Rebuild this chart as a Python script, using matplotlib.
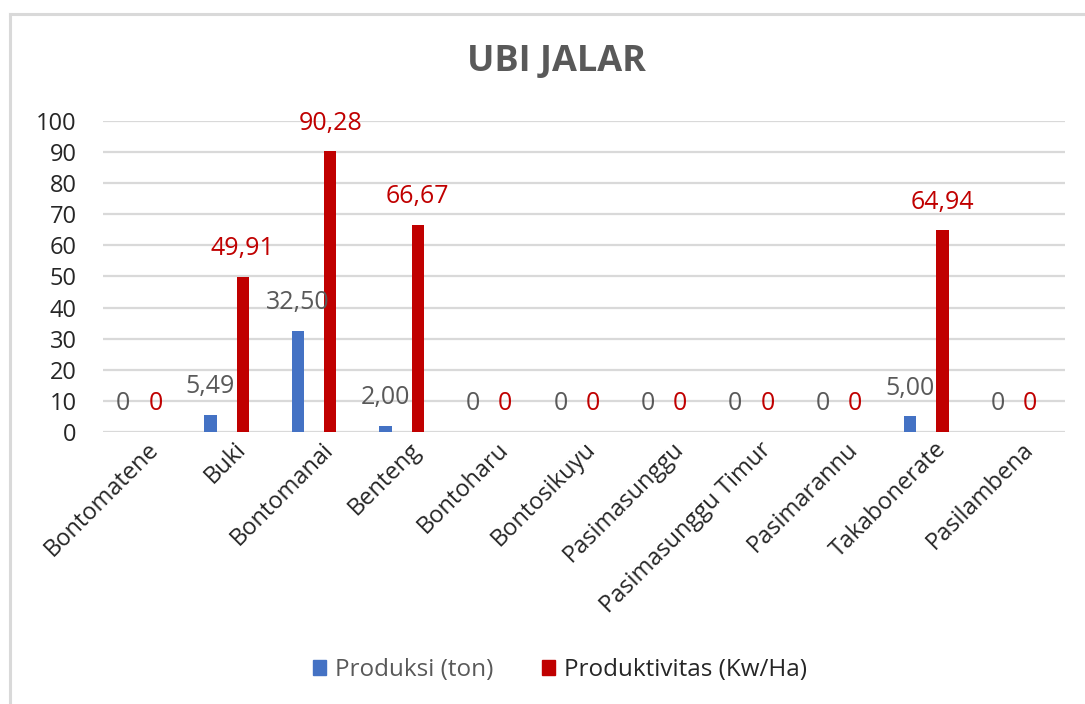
import matplotlib.pyplot as plt
import numpy as np
from matplotlib.lines import Line2D
from matplotlib.patches import Patch

plt.rcParams['font.family'] = ['Open Sans', 'DejaVu Sans']

desa = ['Bontomatene', 'Buki', 'Bontomanai', 'Benteng', 'Bontoharu', 'Bontosikuyu',
        'Pasimasunggu', 'Pasimasunggu Timur', 'Pasimarannu', 'Takabonerate', 'Pasilambena']
produksi = [0, 5.49, 32.50, 2.00, 0, 0, 0, 0, 0, 5.00, 0]
produktivitas = [0, 49.91, 90.28, 66.67, 0, 0, 0, 0, 0, 64.94, 0]

biru = '#4472C4'
merah = '#C00000'
abu = '#595959'


def fmt(v):
    # Excel style: zero shown as 0, others with comma decimal
    if v == 0:
        return '0'
    return f'{v:.2f}'.replace('.', ',')


fig = plt.figure(figsize=(10.85, 7.04), dpi=100)
ax = fig.add_axes([0.0949, 0.3864, 0.8867, 0.4417])

x = np.arange(len(desa))
w = 0.14
xb = x - 0.27
xr = x + 0.10
ax.bar(xb, produksi, width=w, color=biru, zorder=3)
ax.bar(xr, produktivitas, width=w, color=merah, zorder=3)

for xi, v in zip(xb, produksi):
    ax.annotate(fmt(v), (xi, v), xytext=(0, 28), textcoords='offset pixels',
                ha='center', va='center', fontsize=18, color=abu, zorder=4)
for xi, v in zip(xr, produktivitas):
    ax.annotate(fmt(v), (xi, v), xytext=(0, 28), textcoords='offset pixels',
                ha='center', va='center', fontsize=18, color=merah, zorder=4)

ax.set_xlim(-0.5, len(desa) - 0.5)
ax.set_ylim(0, 100)
ax.set_yticks(np.arange(0, 101, 10))
ax.yaxis.grid(True, color='#D9D9D9', linewidth=1.6, zorder=0)
ax.set_axisbelow(True)
for s in ax.spines.values():
    s.set_visible(False)
ax.tick_params(axis='y', length=0, pad=19, labelsize=17, labelcolor='#262626')
ax.tick_params(axis='x', length=0, pad=4, labelsize=17, labelcolor='#262626')
ax.set_xticks(x)
ax.set_xticklabels(desa, rotation=45, ha='right', rotation_mode='anchor')

fig.text(0.513, 0.912, 'UBI JALAR', ha='center', va='center', fontsize=26,
         fontweight='bold', color=abu)

handles = [Patch(color=biru), Patch(color=merah)]
leg = fig.legend(handles, ['Produksi (ton)', 'Produktivitas (Kw/Ha)'], loc='center',
                 bbox_to_anchor=(0.516, 0.048), ncol=2, frameon=False, fontsize=17.5,
                 handlelength=0.55, handleheight=0.55, handletextpad=0.35, columnspacing=2.0)
leg.get_texts()[0].set_color(abu)
leg.get_texts()[1].set_color('#262626')

# chart frame (top and left edges visible)
fig.add_artist(Line2D([0.0088, 1.0], [0.980, 0.980], color='#D9D9D9', linewidth=2.2))
fig.add_artist(Line2D([0.0088, 0.0088], [0.0, 0.980], color='#D9D9D9', linewidth=2.2))

fig.savefig('out.png', dpi=100, facecolor='white')
